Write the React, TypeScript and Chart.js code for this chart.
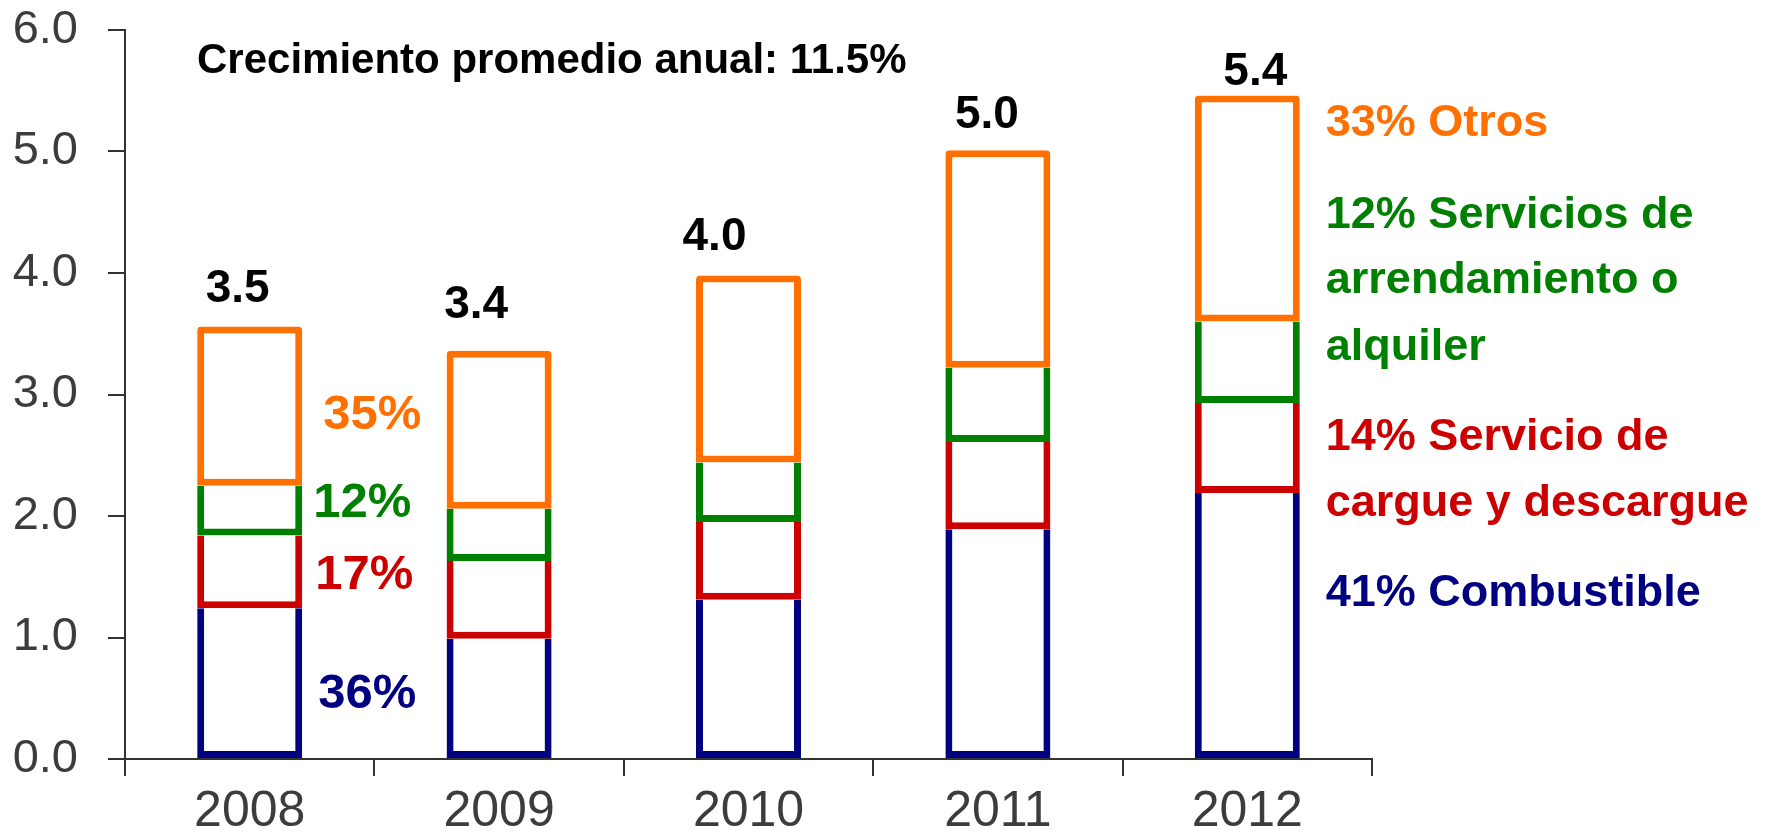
import React, { useEffect, useRef } from 'react';
import { Chart, registerables } from 'chart.js';

Chart.register(...registerables);

// ---------- data ----------
const years = ['2008', '2009', '2010', '2011', '2012'];
const combustible = [1.24, 0.99, 1.31, 1.89, 2.19];
const cargueDescargue = [0.60, 0.64, 0.64, 0.72, 0.74];
const arrendamiento = [0.41, 0.43, 0.49, 0.61, 0.67];
const otros = [1.31, 1.30, 1.54, 1.79, 1.86];
const totalLabels = ['3.5', '3.4', '4.0', '5.0', '5.4'];
const yMin = 0;
const yMax = 6;
const yStep = 1;
const titleText = 'Crecimiento promedio anual: 11.5%';
const shares2008 = ['35%', '12%', '17%', '36%'];
const legendLines = [
  '33% Otros',
  '12% Servicios de',
  'arrendamiento o',
  'alquiler',
  '14% Servicio de',
  'cargue y descargue',
  '41% Combustible',
];

// ---------- styles / annotation placement ----------
const FONT = '"Liberation Sans", Arial, Helvetica, sans-serif';
const ORANGE = '#FF7000';
const GREEN = '#008000';
const RED = '#CC0000';
const NAVY = '#000080';
const AXIS = '#333333';
const TICK_TEXT = '#3c3c3c';

const totalDx = [-12, -23, -34, -11, 8];
const totalGap = [37, 45, 38, 35, 23];
const shareColors = [ORANGE, GREEN, RED, NAVY];
const shareAt = [2.83, 2.1, 1.51, 0.53];
const shareDx = [21, 11, 13, 16];
const legendColors = [ORANGE, GREEN, GREEN, GREEN, RED, RED, NAVY];
const legendAt = [5.226, 4.469, 3.934, 3.383, 2.642, 2.099, 1.358];
const legendDx = 26;

const annotationPlugin = {
  id: 'annotations',
  afterDatasetsDraw(chart: any) {
    const { ctx, scales } = chart;
    const ys = scales.y;
    const area = chart.chartArea;
    const topMeta = chart.getDatasetMeta(3);
    ctx.save();
    ctx.textBaseline = 'middle';

    // title
    ctx.font = `bold 42px ${FONT}`;
    ctx.fillStyle = '#000000';
    ctx.textAlign = 'left';
    ctx.fillText(titleText, area.left + 72, area.top + 31);

    // totals above bars
    ctx.font = `bold 46px ${FONT}`;
    ctx.textAlign = 'center';
    topMeta.data.forEach((bar: any, i: number) => {
      const p = bar.getProps(['x', 'y'], true);
      ctx.fillText(totalLabels[i], p.x + totalDx[i], p.y - totalGap[i]);
    });

    // shares next to first bar
    const first = topMeta.data[0].getProps(['x', 'width'], true);
    const firstRight = first.x + first.width / 2;
    ctx.font = `bold 49px ${FONT}`;
    ctx.textAlign = 'left';
    shares2008.forEach((t, i) => {
      ctx.fillStyle = shareColors[i];
      ctx.fillText(t, firstRight + shareDx[i], ys.getPixelForValue(shareAt[i]));
    });

    // legend lines next to last bar
    const last = topMeta.data[topMeta.data.length - 1].getProps(['x', 'width'], true);
    const lastRight = last.x + last.width / 2;
    ctx.font = `bold 45px ${FONT}`;
    legendLines.forEach((t, i) => {
      ctx.fillStyle = legendColors[i];
      ctx.fillText(t, lastRight + legendDx, ys.getPixelForValue(legendAt[i]));
    });

    ctx.restore();
  },
};

export default function App() {
  const ref = useRef<HTMLCanvasElement | null>(null);

  useEffect(() => {
    if (!ref.current) return;
    const lower = { borderSkipped: 'end' as const };
    const common = {
      backgroundColor: '#ffffff',
      borderWidth: 7,
      barPercentage: 0.421,
      categoryPercentage: 1,
    };
    const chart = new Chart(ref.current, {
      type: 'bar',
      data: {
        labels: years,
        datasets: [
          { label: 'Combustible', data: combustible, borderColor: NAVY, ...common, ...lower },
          { label: 'Servicio de cargue y descargue', data: cargueDescargue, borderColor: RED, ...common, ...lower },
          { label: 'Servicios de arrendamiento o alquiler', data: arrendamiento, borderColor: GREEN, ...common, ...lower },
          {
            label: 'Otros',
            data: otros,
            borderColor: ORANGE,
            ...common,
            borderSkipped: false,
            borderRadius: { topLeft: 4, topRight: 4, bottomLeft: 0, bottomRight: 0 },
          },
        ],
      },
      options: {
        responsive: false,
        animation: false,
        devicePixelRatio: 1,
        layout: { padding: { left: 0, right: 395, top: 30, bottom: 0 } },
        plugins: {
          legend: { display: false },
          tooltip: { enabled: false },
          title: { display: false },
        },
        scales: {
          x: {
            stacked: true,
            grid: {
              display: true,
              drawOnChartArea: false,
              drawTicks: true,
              tickLength: 17,
              color: AXIS,
              lineWidth: 2,
              offset: true,
            },
            border: { display: true, color: AXIS, width: 2 },
            ticks: {
              color: TICK_TEXT,
              font: { family: FONT, size: 50 },
              padding: 6,
              maxRotation: 0,
            },
            afterFit: (s: any) => {
              s.height = 79;
              s.paddingLeft = 0;
              s.paddingRight = 0;
            },
          },
          y: {
            stacked: true,
            min: yMin,
            max: yMax,
            grid: {
              display: true,
              drawOnChartArea: false,
              drawTicks: true,
              tickLength: 17,
              color: AXIS,
              lineWidth: 2,
            },
            border: { display: true, color: AXIS, width: 2 },
            ticks: {
              stepSize: yStep,
              color: TICK_TEXT,
              font: { family: FONT, size: 47 },
              padding: 30,
              callback: (v: any) => Number(v).toFixed(1),
            },
            afterFit: (s: any) => {
              s.width = 125;
              s.paddingTop = 0;
              s.paddingBottom = 0;
            },
          },
        },
      },
      plugins: [annotationPlugin],
    });
    return () => chart.destroy();
  }, []);

  return (
    <div style={{ position: 'fixed', left: 0, top: 0, width: 1767, height: 838, background: '#ffffff' }}>
      <canvas ref={ref} width={1767} height={838} style={{ display: 'block', width: 1767, height: 838 }} />
    </div>
  );
}
